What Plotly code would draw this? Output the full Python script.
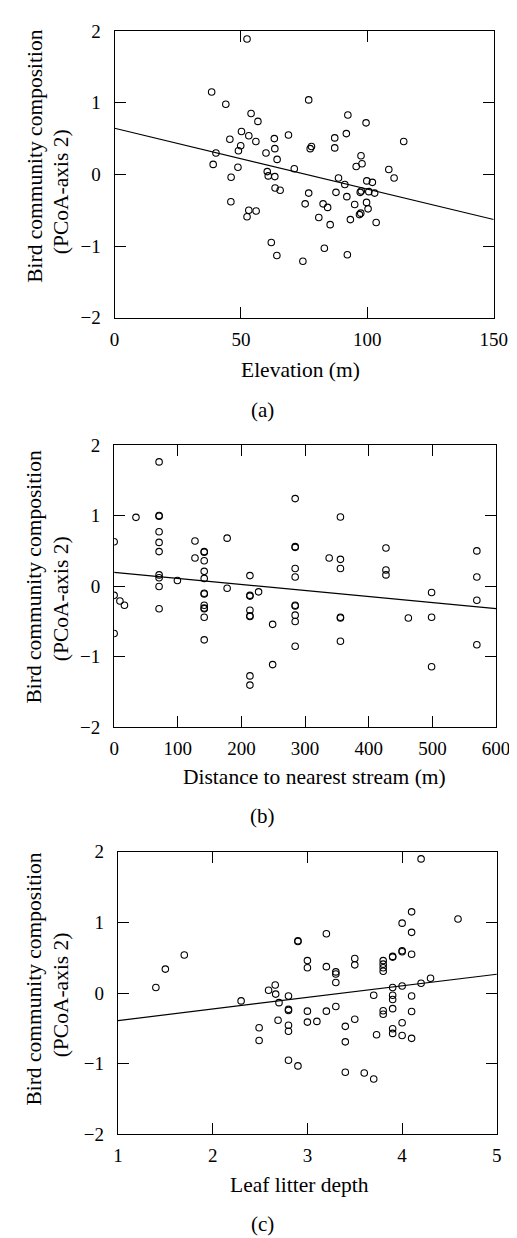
import numpy as np
import plotly.graph_objects as go

# ---------------- data ----------------
elev_x = [52.4, 38.4, 44.0, 76.8, 54.0, 56.7, 50.2, 53.1, 45.6, 55.9, 63.2, 68.8, 49.9, 49.0, 63.4,
          40.1, 59.9, 64.3, 39.0, 48.8, 71.1, 60.4, 60.8, 63.4, 46.1, 63.5, 65.5, 76.8, 75.4, 46.0,
          53.1, 56.0, 52.4, 62.0, 64.2, 74.5, 77.4, 77.9, 92.3, 99.5, 91.7, 87.1, 87.1, 114.4, 97.5,
          97.9, 95.6, 108.5, 110.6, 88.6, 91.1, 99.8, 102.0, 97.2, 97.6, 100.6, 102.9, 87.6, 91.9,
          82.5, 84.3, 95.0, 99.7, 100.3, 96.9, 97.4, 80.8, 85.3, 93.3, 103.5, 83.0, 92.1]
elev_y = [1.89, 1.15, 0.98, 1.04, 0.85, 0.74, 0.60, 0.54, 0.49, 0.46, 0.50, 0.55, 0.40, 0.33, 0.36,
          0.30, 0.30, 0.21, 0.14, 0.10, 0.08, 0.04, -0.02, -0.03, -0.04, -0.19, -0.22, -0.26, -0.41, -0.38,
          -0.50, -0.51, -0.59, -0.95, -1.13, -1.21, 0.36, 0.39, 0.83, 0.72, 0.57, 0.51, 0.37, 0.46, 0.26,
          0.15, 0.11, 0.07, -0.05, -0.05, -0.14, -0.09, -0.11, -0.25, -0.23, -0.24, -0.26, -0.25, -0.31,
          -0.41, -0.46, -0.42, -0.39, -0.48, -0.56, -0.54, -0.60, -0.70, -0.63, -0.67, -1.03, -1.12]

stream_x = [0, 0, 0, 9.1, 16.2, 34.3,
            70.6, 70.6, 70.6, 70.6, 70.6, 70.6, 70.6, 70.6, 70.6, 70.6,
            99.4, 127, 127,
            141.5, 141.5, 141.5, 141.5, 141.5, 141.5, 141.5, 141.5, 141.5, 141.5, 141.5, 141.5,
            177.5, 177.5,
            213.3, 213.3, 213.3, 213.3, 213.3, 213.3, 213.3, 213.3,
            226.9, 249, 249,
            284.4, 284.4, 284.4, 284.4, 284.4, 284.4, 284.4, 284.4, 284.4, 284.4,
            337.8, 355.5, 355.5, 355.5, 355.5, 355.5, 355.5,
            427, 427, 427, 462.2, 498.7, 498.7, 498.7,
            569.8, 569.8, 569.8, 569.8]
stream_y = [0.63, -0.13, -0.67, -0.21, -0.27, 0.975,
            1.76, 1.00, 0.99, 0.77, 0.62, 0.49, 0.16, 0.12, -0.005, -0.32,
            0.08, 0.64, 0.40,
            0.49, 0.48, 0.36, 0.21, 0.11, -0.10, -0.11, -0.27, -0.31, -0.32, -0.44, -0.76,
            0.68, -0.03,
            0.15, -0.13, -0.14, -0.34, -0.42, -0.43, -1.27, -1.40,
            -0.08, -0.54, -1.11,
            1.24, 0.56, 0.55, 0.25, 0.13, -0.27, -0.28, -0.41, -0.50, -0.85,
            0.40, 0.98, 0.38, 0.25, -0.44, -0.45, -0.78,
            0.54, 0.23, 0.16, -0.45, -0.09, -0.44, -1.14,
            0.50, 0.13, -0.20, -0.83]

litter_x = [1.40, 1.50, 1.70, 2.30, 2.59, 2.66, 2.665, 2.70, 2.80, 2.80, 2.80, 3.00, 2.69, 2.80, 2.80,
            3.00, 2.49, 2.49, 2.80, 2.90, 2.90, 2.90, 3.00, 3.00, 4.20, 4.10, 4.59, 4.00, 4.10, 3.20,
            4.00, 4.00, 4.10, 3.90, 3.90, 3.50, 3.50, 3.80, 3.80, 3.80, 3.80, 3.20, 3.30, 3.30, 3.30,
            4.30, 4.20, 4.00, 3.90, 3.70, 3.90, 3.90, 4.10, 3.10, 3.20, 3.30, 3.50, 3.40, 3.40, 3.80,
            3.80, 3.90, 4.10, 4.00, 3.73, 3.90, 3.90, 4.00, 4.10, 3.40, 3.60, 3.70]
litter_y = [0.08, 0.34, 0.54, -0.11, 0.04, 0.115, -0.014, -0.135, -0.04, -0.23, -0.245, -0.255, -0.385, -0.455, -0.54,
            -0.41, -0.49, -0.67, -0.95, -1.03, 0.74, 0.73, 0.46, 0.36, 1.90, 1.15, 1.05, 0.99, 0.86, 0.84,
            0.60, 0.585, 0.55, 0.52, 0.51, 0.49, 0.40, 0.46, 0.41, 0.36, 0.31, 0.375, 0.30, 0.27, 0.15,
            0.21, 0.14, 0.10, 0.08, -0.03, -0.03, -0.09, -0.04, -0.40, -0.255, -0.19, -0.37, -0.47, -0.69, -0.25,
            -0.30, -0.22, -0.26, -0.42, -0.59, -0.505, -0.57, -0.60, -0.64, -1.12, -1.13, -1.215]

# regression fits: (intercept, slope)
fit_elev = (0.645, -0.00849)
fit_stream = (0.195, -0.000852)
fit_litter = (-0.553, 0.164)

x_titles = ["Elevation (m)", "Distance to nearest stream (m)", "Leaf litter depth"]
panel_labels = ["(a)", "(b)", "(c)"]
y_title_1 = "Bird community composition"
y_title_2 = "(PCoA-axis 2)"
x_ranges = [[0, 150], [0, 600], [1, 5]]
x_dticks = [50, 100, 1]

# ---------------- layout geometry (pixels) ----------------
W, H = 517, 1238
panels = [
    dict(l=105.5, r=499.0, t=13.3, b=305.0, xt=298.5, xty=357.7, lab_y=399.0, yt1=141, yt2=177),
    dict(l=105.0, r=501.5, t=434.3, b=721.7, xt=313.0, xty=771.7, lab_y=811.7, yt1=569, yt2=591),
    dict(l=109.0, r=502.3, t=848.2, b=1135.7, xt=297.0, xty=1186.7, lab_y=1226.7, yt1=978, yt2=994),
]

FONT = "Liberation Serif"
datasets = [(elev_x, elev_y, fit_elev), (stream_x, stream_y, fit_stream), (litter_x, litter_y, fit_litter)]

fig = go.Figure()
annotations = []
for i, ((xs, ys, fit), p) in enumerate(zip(datasets, panels)):
    n = "" if i == 0 else str(i + 1)
    xa, ya = "x" + n, "y" + n
    fig.add_trace(go.Scatter(
        x=xs, y=ys, mode="markers", xaxis=xa, yaxis=ya, showlegend=False,
        marker=dict(symbol="circle-open", size=6.5, color="black", line=dict(width=1.1, color="black")),
        hoverinfo="skip"))
    lx = np.array(x_ranges[i], dtype=float)
    ly = fit[0] + fit[1] * lx
    fig.add_trace(go.Scatter(
        x=lx, y=ly, mode="lines", xaxis=xa, yaxis=ya, showlegend=False,
        line=dict(color="black", width=1.2), hoverinfo="skip"))

    axis_common = dict(showgrid=False, zeroline=False, showline=True, linecolor="black", linewidth=1.3,
                       mirror="ticks", ticks="inside", ticklen=11, tickwidth=1.1, tickcolor="black",
                       tickfont=dict(family=FONT, size=19, color="black"))
    fig.layout["xaxis" + n] = dict(
        axis_common, domain=[p["l"] / W, p["r"] / W], range=x_ranges[i], dtick=x_dticks[i],
        tick0=x_ranges[i][0], anchor=ya, ticklabelstandoff=4)
    fig.layout["yaxis" + n] = dict(
        axis_common, domain=[1 - p["b"] / H, 1 - p["t"] / H], range=[-2, 2], dtick=1,
        anchor=xa, ticklabelstandoff=9)

    annotations.append(dict(text=x_titles[i], x=p["xt"] / W, y=1 - p["xty"] / H, xref="paper", yref="paper",
                            showarrow=False, xanchor="center", yanchor="middle",
                            font=dict(family=FONT, size=21.5, color="black")))
    annotations.append(dict(text=panel_labels[i], x=258.5 / W, y=1 - p["lab_y"] / H, xref="paper", yref="paper",
                            showarrow=False, xanchor="center", yanchor="middle",
                            font=dict(family=FONT, size=21, color="black")))
    annotations.append(dict(text=y_title_1, x=22 / W, y=1 - p["yt1"] / H, xref="paper", yref="paper",
                            showarrow=False, xanchor="center", yanchor="middle", textangle=-90,
                            font=dict(family=FONT, size=21.5, color="black")))
    annotations.append(dict(text=y_title_2, x=50 / W, y=1 - p["yt2"] / H, xref="paper", yref="paper",
                            showarrow=False, xanchor="center", yanchor="middle", textangle=-90,
                            font=dict(family=FONT, size=21.5, color="black")))

fig.update_layout(width=W, height=H, margin=dict(l=0, r=0, t=0, b=0),
                  paper_bgcolor="white", plot_bgcolor="white", annotations=annotations)
fig.write_html("out.html")
